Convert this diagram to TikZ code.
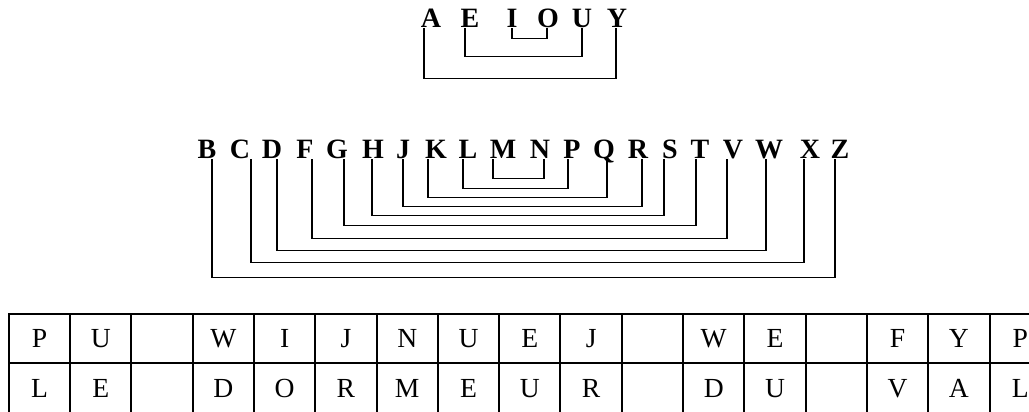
\documentclass[tikz,border=0pt]{standalone}
\usepackage{fontspec}
\setmainfont{Liberation Serif}
\usepackage{tikz}
\usetikzlibrary{calc, matrix, positioning}
\tikzstyle{letter}=[font=\bfseries\fontsize{14pt}{16pt}\selectfont, inner sep=0.5pt, text depth=0pt, anchor=base]
\tikzstyle{cell}=[draw, line width=0.7pt, minimum width=30.35pt, minimum height=24.5pt, inner sep=0pt, anchor=center, text height=9.2pt, text depth=0pt, font=\fontsize{13.8pt}{16pt}\selectfont]
\tikzstyle{link}=[line width=0.9pt]

\begin{document}
\begin{tikzpicture}[x=0.5pt, y=-0.5pt]

\useasboundingbox (0,0) rectangle (1029,412);
\clip (0,0) rectangle (1029,412);

% Vowels
\foreach \l/\x/\d in {A/431/-7, E/470/-5, I/512/0, O/548/-1, U/582/0, Y/617/-1}{
  \node[letter] (\l) at (\x,27) {\l};
  \coordinate (\l-leg) at ($(\l.south)+(\d,0)$);
}

\draw[link] (I-leg) -- ++(0,10) -| (O-leg); % I -> O
\draw[link] (E-leg) -- ++(0,28) -| (U-leg); % E -> U
\draw[link] (A-leg) -- ++(0,50) -| (Y-leg); % A -> Y

% Consonants
\foreach \l/\x/\d in {B/207/5, C/240/11, D/272/5, F/305/7, G/337/7,
                      H/373/-1, J/403/0, K/436/-8, L/468/-5, M/503/-10,
                      N/540/4, P/572/-4, Q/604/3, R/638/4, S/670/-6,
                      T/700/-4, V/733/-6, W/769/-3, X/810/-6, Z/840/-5}{
  \node[letter] (\l) at (\x,158) {\l};
  \coordinate (\l-leg) at ($(\l.south)+(\d,0)$);
}

\foreach \a/\b/\h in {M/N/19, L/P/29, K/Q/38, J/R/47, H/S/56,
                      G/T/66, F/V/79, D/W/91, C/X/103, B/Z/118}{
  \draw[link] (\a-leg) -- ++(0,\h) -| (\b-leg);
}

% Answer grid
\matrix (grid) [
    ampersand replacement=\&,
    matrix of nodes,
    nodes in empty cells,
    nodes={cell},
    inner sep=0pt,
    column sep=-\pgflinewidth,
    row sep=-\pgflinewidth,
    anchor=north west,
] at (8,313)
{
    P \& U \& \& W \& I \& J \& N \& U \& E \& J \& \& W \& E \& \& F \& Y \& P \\
    L \& E \& \& D \& O \& R \& M \& E \& U \& R \& \& D \& U \& \& V \& A \& L \\
};

\end{tikzpicture}
\end{document}
